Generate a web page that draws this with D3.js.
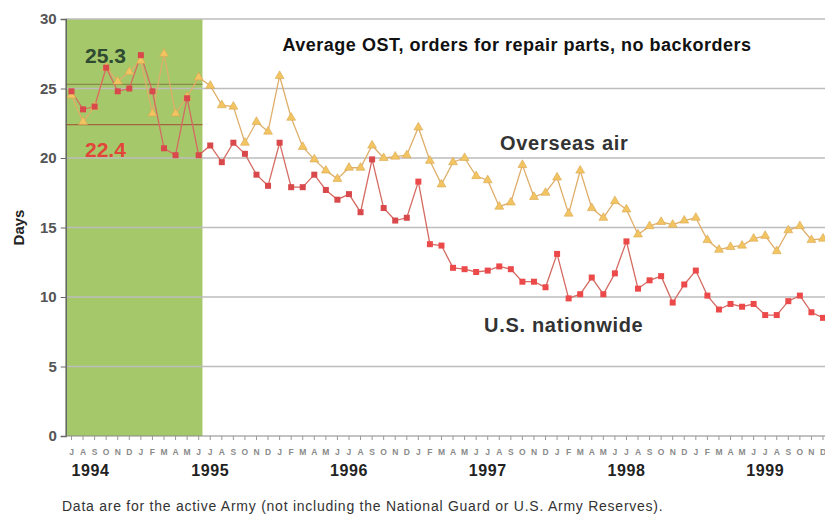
<!DOCTYPE html>
<html>
<head>
<meta charset="utf-8">
<script src="https://cdn.jsdelivr.net/npm/d3@7"></script>
<style>
  body { margin: 0; background: #fff; }
  text { font-family: "Liberation Sans", Arial, sans-serif; }
</style>
</head>
<body>
<div id="chart"></div>
<script>
// month letters, Jul 1994 .. Dec 1999
var monthLetters = ["J","A","S","O","N","D","J","F","M","A","M","J"];
var years = ["1994", "1995", "1996", "1997", "1998", "1999"];
var yTicks = [0, 5, 10, 15, 20, 25, 30];

// Days, monthly, Jul 1994 .. Dec 1999
var overseasAir = [
  24.5, 22.6, 23.7, 26.5, 25.5, 26.2, 27.0, 23.2, 27.5, 23.2, 24.4, 25.8,
  25.2, 23.8, 23.7, 21.1, 22.6, 21.9, 25.9, 22.9, 20.8, 19.9, 19.1, 18.5,
  19.3, 19.3, 20.9, 20.0, 20.1, 20.2,
  22.2, 19.8, 18.1, 19.7, 20.0, 18.7, 18.4, 16.5, 16.8, 19.5, 17.2, 17.5,
  18.6, 16.0, 19.1, 16.4, 15.7, 16.9, 16.3, 14.5, 15.1, 15.4, 15.2, 15.5,
  15.7, 14.1, 13.4, 13.6, 13.7, 14.2, 14.4, 13.3, 14.8, 15.1, 14.1, 14.2
];
var usNationwide = [
  24.8, 23.5, 23.7, 26.5, 24.8, 25.0, 27.4, 24.8, 20.7, 20.2, 24.3, 20.2,
  20.9, 19.7, 21.1, 20.3, 18.8, 18.0, 21.1, 17.9, 17.9, 18.8, 17.7, 17.0,
  17.4, 16.1, 19.9, 16.4, 15.5, 15.7,
  18.3, 13.8, 13.7, 12.1, 12.0, 11.8, 11.9, 12.2, 12.0, 11.1, 11.1, 10.7,
  13.1, 9.9, 10.2, 11.4, 10.2, 11.7, 14.0, 10.6, 11.2, 11.5, 9.6, 10.9,
  11.9, 10.1, 9.1, 9.5, 9.3, 9.5, 8.7, 8.7, 9.7, 10.1, 8.9, 8.5
];
// baseline period averages (first 12 months)
var baseAir = 25.3;
var baseUS = 22.4;
var baseMonths = 12;

var width = 825, height = 516;
var svg = d3.select("#chart").append("svg")
  .attr("width", width)
  .attr("height", height);

var n = overseasAir.length;
var x = d3.scaleLinear().domain([0, n - 1]).range([71.5, 823]);
var y = d3.scaleLinear().domain([0, 30]).range([436, 19]);
var left = x(-0.5), right = 825;

// green baseline band
svg.append("rect")
  .attr("x", left)
  .attr("y", y(30))
  .attr("width", x(baseMonths - 0.5) - left - 2)
  .attr("height", y(0) - y(30))
  .attr("fill", "#a5c96a");

// grid lines
svg.selectAll(".grid")
  .data(yTicks.slice(1))
  .enter()
  .append("line")
  .attr("x1", left).attr("x2", right)
  .attr("y1", function (d) { return y(d); })
  .attr("y2", function (d) { return y(d); })
  .attr("stroke", "#bdbdbd")
  .attr("stroke-width", 1.5);

// baseline average lines
svg.append("line")
  .attr("x1", left).attr("x2", x(baseMonths - 0.5) - 2)
  .attr("y1", y(baseAir)).attr("y2", y(baseAir))
  .attr("stroke", "#8c8a4a").attr("stroke-width", 1.2);
svg.append("line")
  .attr("x1", left).attr("x2", x(baseMonths - 0.5) - 2)
  .attr("y1", y(baseUS)).attr("y2", y(baseUS))
  .attr("stroke", "#a4663e").attr("stroke-width", 1.2);

// y axis
var yAxis = svg.append("g")
  .attr("transform", "translate(" + left + ",0)")
  .call(d3.axisLeft(y).tickValues(yTicks).tickSize(5).tickPadding(4));
yAxis.select(".domain").attr("stroke", "#666").attr("stroke-width", 1.5);
yAxis.selectAll(".tick line").attr("stroke", "#666");
yAxis.selectAll(".tick text")
  .attr("font-size", 15)
  .attr("font-weight", "bold")
  .attr("fill", "#555")
  .style("font-family", "Liberation Sans, Arial, sans-serif");

// x axis
svg.append("line")
  .attr("x1", left).attr("x2", right)
  .attr("y1", y(0)).attr("y2", y(0))
  .attr("stroke", "#888").attr("stroke-width", 1.2);

var idx = d3.range(n);
svg.selectAll(".mtick")
  .data(idx)
  .enter()
  .append("line")
  .attr("x1", function (d) { return x(d); })
  .attr("x2", function (d) { return x(d); })
  .attr("y1", y(0)).attr("y2", y(0) + 4)
  .attr("stroke", "#999");

svg.selectAll(".mlabel")
  .data(idx)
  .enter()
  .append("text")
  .attr("x", function (d) { return x(d); })
  .attr("y", 455)
  .attr("text-anchor", "middle")
  .attr("font-size", 8.5)
  .attr("font-weight", "bold")
  .attr("fill", "#8a8a8a")
  .text(function (d) { return monthLetters[d % 12]; });

svg.selectAll(".ylabel")
  .data(years)
  .enter()
  .append("text")
  .attr("x", function (d, i) { return i === 0 ? x(0) : x(i * 12); })
  .attr("y", 476)
  .attr("text-anchor", function (d, i) { return i === 0 ? "start" : "middle"; })
  .attr("font-size", 16)
  .attr("font-weight", "bold")
  .attr("letter-spacing", 0.6)
  .attr("fill", "#222")
  .text(function (d) { return d; });

// lines
var line = d3.line()
  .x(function (d, i) { return x(i); })
  .y(function (d) { return y(d); });

svg.append("path")
  .datum(overseasAir)
  .attr("d", line)
  .attr("fill", "none")
  .attr("stroke", "#dfae6a")
  .attr("stroke-width", 1.3);

svg.append("path")
  .datum(usNationwide)
  .attr("d", line)
  .attr("fill", "none")
  .attr("stroke", "#d46a62")
  .attr("stroke-width", 1.3);

// markers
var tri = d3.symbol().type(d3.symbolTriangle).size(34);
svg.selectAll(".airPt")
  .data(overseasAir)
  .enter()
  .append("path")
  .attr("d", tri)
  .attr("transform", function (d, i) { return "translate(" + x(i) + "," + y(d) + ")"; })
  .attr("fill", "#f2c462")
  .attr("stroke", "#d9a850")
  .attr("stroke-width", 0.6);

svg.selectAll(".usPt")
  .data(usNationwide)
  .enter()
  .append("rect")
  .attr("x", function (d, i) { return x(i) - 3; })
  .attr("y", function (d) { return y(d) - 3; })
  .attr("width", 6)
  .attr("height", 6)
  .attr("fill", function (d, i) { return i < 30 ? "#d9484a" : "#ec4a4a"; });

// labels
svg.append("text")
  .attr("x", 517).attr("y", 51)
  .attr("text-anchor", "middle")
  .attr("font-size", 18)
  .attr("font-weight", "bold")
  .attr("letter-spacing", 0.5)
  .attr("fill", "#111")
  .text("Average OST, orders for repair parts, no backorders");

svg.append("text")
  .attr("x", 500).attr("y", 150)
  .attr("font-size", 20)
  .attr("font-weight", "bold")
  .attr("letter-spacing", 0.7)
  .attr("fill", "#333")
  .text("Overseas air");

svg.append("text")
  .attr("x", 484).attr("y", 332)
  .attr("font-size", 20)
  .attr("font-weight", "bold")
  .attr("letter-spacing", 0.7)
  .attr("fill", "#333")
  .text("U.S. nationwide");

svg.append("text")
  .attr("x", 85).attr("y", 63)
  .attr("font-size", 21)
  .attr("font-weight", "bold")
  .attr("fill", "#2f4a32")
  .text(baseAir.toFixed(1));

svg.append("text")
  .attr("x", 85).attr("y", 157)
  .attr("font-size", 21)
  .attr("font-weight", "bold")
  .attr("fill", "#e2453a")
  .text(baseUS.toFixed(1));

svg.append("text")
  .attr("transform", "translate(24," + y(15) + ") rotate(-90)")
  .attr("text-anchor", "middle")
  .attr("font-size", 15)
  .attr("font-weight", "bold")
  .attr("fill", "#222")
  .text("Days");

svg.append("text")
  .attr("x", 62).attr("y", 511)
  .attr("font-size", 14)
  .attr("letter-spacing", 0.75)
  .attr("fill", "#333")
  .text("Data are for the active Army (not including the National Guard or U.S. Army Reserves).");
</script>
</body>
</html>
